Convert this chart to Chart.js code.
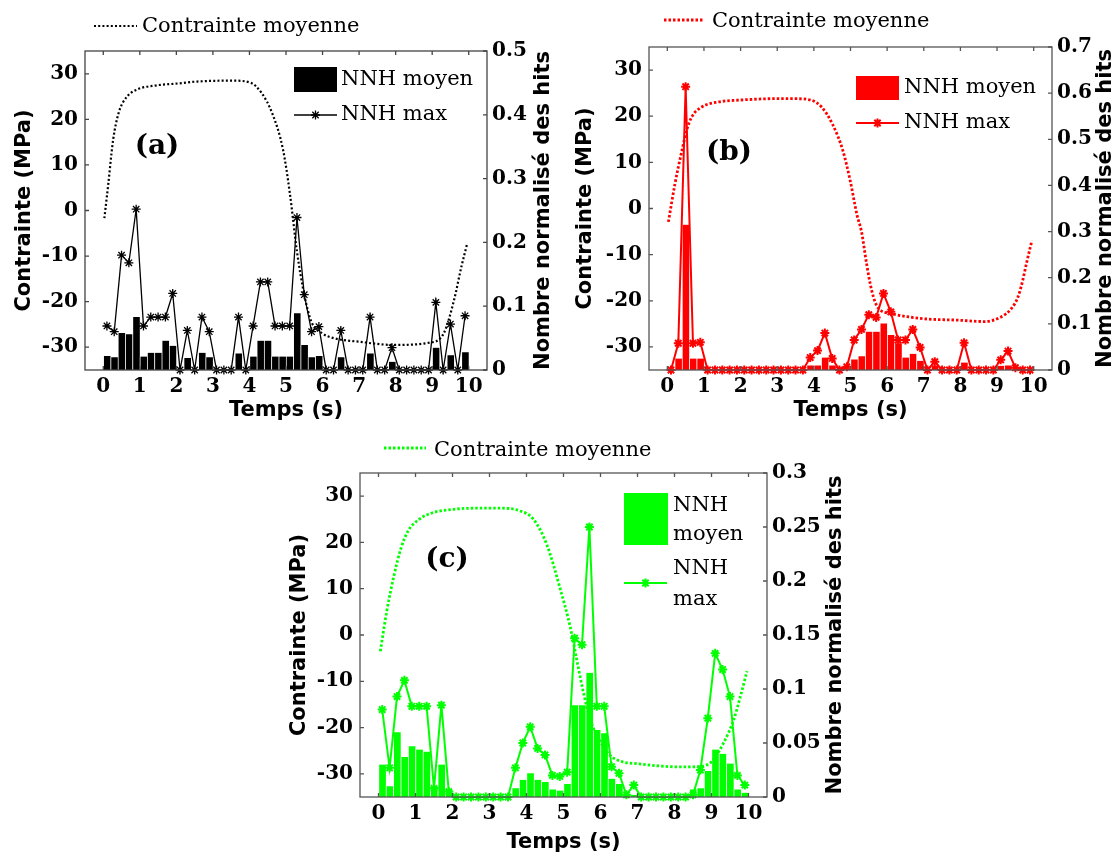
<!DOCTYPE html>
<html><head><meta charset="utf-8">
<script src="https://cdn.jsdelivr.net/npm/chart.js@4.4.1/dist/chart.umd.min.js"></script>
<style>
html,body{margin:0;padding:0;background:#fff;}
#wrap{position:relative;width:1120px;height:857px;overflow:hidden;background:#fff;}
canvas{position:absolute;left:0;top:0;}
</style></head><body>
<div id="wrap">
<canvas id="ca" width="1120" height="857"></canvas>
<canvas id="cb" width="1120" height="857"></canvas>
<canvas id="cc" width="1120" height="857"></canvas>
</div>
<script>
// ---------- DATA ----------
const timeBins = [0.1,0.3,0.5,0.7,0.9, 1.1,1.3,1.5,1.7,1.9, 2.1,2.3,2.5,2.7,2.9, 3.1,3.3,3.5,3.7,3.9,
  4.1,4.3,4.5,4.7,4.9, 5.1,5.3,5.5,5.7,5.9, 6.1,6.3,6.5,6.7,6.9, 7.1,7.3,7.5,7.7,7.9,
  8.1,8.3,8.5,8.7,8.9, 9.1,9.3,9.5,9.7,9.9];
const timeTicks = [0,1,2,3,4,5,6,7,8,9,10];
const stressTicks = [-30,-20,-10,0,10,20,30];
const stressTickLabels = ['-30','-20','-10','0','10','20','30'];
const hitsTicksA = [0,0.1,0.2,0.3,0.4,0.5];
const hitsLabelsA = ['0','0.1','0.2','0.3','0.4','0.5'];
const hitsTicksB = [0,0.1,0.2,0.3,0.4,0.5,0.6,0.7];
const hitsLabelsB = ['0','0.1','0.2','0.3','0.4','0.5','0.6','0.7'];
const hitsTicksC = [0,0.05,0.1,0.15,0.2,0.25,0.3];
const hitsLabelsC = ['0','0.05','0.1','0.15','0.2','0.25','0.3'];

// Panel (a)
const aMoyen = [0.022,0.020,0.058,0.056,0.083, 0.021,0.027,0.027,0.046,0.038, 0,0.019,0,0.027,0.020,
  0,0,0,0.026,0, 0.021,0.046,0.046,0.021,0.021, 0.021,0.089,0.039,0.020,0.022,
  0,0,0.020,0,0, 0,0.026,0,0,0.013, 0,0,0,0,0, 0.035,0,0.023,0,0.028];
const aMax = [0.069,0.060,0.180,0.168,0.252, 0.069,0.083,0.083,0.083,0.120, 0,0.062,0,0.083,0.060,
  0,0,0,0.083,0, 0.069,0.138,0.138,0.069,0.069, 0.069,0.239,0.118,0.060,0.068,
  0,0,0.062,0,0, 0,0.083,0,0,0.035, 0,0,0,0,0, 0.106,0,0.072,0,0.085];
const aStressT = [0.03,0.13,0.27,0.42,0.62,0.91,1.4,2.08,2.57,3.55,4.04,4.33,4.62,4.92,5.11,5.3,5.5,5.7,6.0,6.3,7.0,7.95,8.92,9.32,9.6,9.8,9.95];
const aStress = [-1.7,5.3,15.5,21.4,24.7,26.5,27.4,27.9,28.3,28.5,28.0,25.8,21.4,13.3,3.5,-9,-18.5,-24.5,-27,-28,-28.8,-29.5,-29,-26.9,-19.6,-12.3,-7.5];

// Panel (b)
const bMoyen = [0,0.025,0.315,0.025,0.025, 0,0,0,0,0, 0,0,0,0,0, 0,0,0,0,0.010,
  0.010,0.027,0.010,0,0, 0.023,0.030,0.083,0.083,0.101, 0.076,0.058,0.027,0.035,0.020,
  0,0.010,0,0,0, 0.016,0,0,0,0, 0.009,0.010,0,0,0];
const bMax = [0,0.058,0.614,0.058,0.060, 0,0,0,0,0, 0,0,0,0,0, 0,0,0,0,0.027,
  0.042,0.080,0.025,0,0.007, 0.065,0.088,0.120,0.114,0.166, 0.126,0.065,0.065,0.088,0.049,
  0,0.018,0,0,0, 0.059,0,0,0,0, 0.022,0.041,0.005,0,0];
const bStressT = [0.03,0.21,0.4,0.53,0.67,0.94,1.4,1.98,2.96,3.44,3.92,4.21,4.5,4.79,4.99,5.18,5.3,5.44,5.57,5.75,6.12,7.02,7.93,8.66,9.11,9.39,9.57,9.7,9.8,9.95];
const bStress = [-2.9,5.4,12.6,17,19.9,22,23.1,23.5,23.8,23.8,23.5,22,18.4,12.6,6.1,-1.5,-5,-12,-17.5,-21.5,-22.8,-23.9,-24.2,-24.5,-23.5,-21.7,-19.2,-15.6,-12,-7];

// Panel (c)
const cMoyen = [0.030,0.010,0.060,0.037,0.047, 0.044,0.042,0.010,0.030,0.006, 0.001,0,0,0,0,
  0,0,0,0.008,0.016, 0.022,0.016,0.014,0.007,0.006, 0.012,0.085,0.085,0.115,0.062,
  0.059,0.017,0.012,0.003,0.002, 0,0,0,0,0, 0,0,0.007,0.008,0.024, 0.044,0.040,0.031,0.007,0.004];
const cMax = [0.081,0.027,0.093,0.108,0.084, 0.084,0.084,0.008,0.085,0.005, 0,0,0,0,0,
  0,0,0,0.027,0.050, 0.065,0.045,0.039,0.020,0.019, 0.023,0.147,0.141,0.250,0.084,
  0.084,0.028,0.022,0.002,0.011, 0,0,0,0,0, 0,0,0.002,0.025,0.073, 0.133,0.118,0.093,0.020,0.011];
const cStressT = [0.05,0.22,0.42,0.61,0.8,1.05,1.38,1.97,2.64,3.3,3.83,4.19,4.55,4.91,5.18,5.36,5.5,5.63,5.8,6.03,6.26,6.6,7.0,7.6,8.2,8.69,9.01,9.32,9.6,9.78,9.96];
const cStress = [-3.5,5,12.9,18.8,22.5,24.7,26.2,27.1,27.4,27.4,26.8,25,19.5,10,1.8,-5.4,-11,-15.5,-20,-23.5,-26,-27.4,-27.8,-28.3,-28.5,-28.4,-27.3,-23.4,-18.3,-13.3,-7.8];

const txtStress = 'Contrainte moyenne';
const txtMoyen = 'NNH moyen';
const txtMax = 'NNH max';
const txtX = 'Temps (s)';
const txtY = 'Contrainte (MPa)';
const txtY1 = 'Nombre normalisé des hits';

// ---------- RENDERING ----------
const SERIF = "'DejaVu Serif', serif";
const SANS = "'DejaVu Sans', sans-serif";
const pts = (xs, ys) => xs.map((x, i) => ({x: x, y: ys[i]}));

const decorPlugin = {
  id: 'decor',
  afterDraw(chart, args, o) {
    const {ctx, chartArea: a, scales} = chart;
    const ds = chart.data.datasets;
    ctx.save();
    // frame and inward ticks
    ctx.strokeStyle = o.frameColor; ctx.lineWidth = 1.3; ctx.setLineDash([]);
    ctx.strokeRect(a.left, a.top, a.right - a.left, a.bottom - a.top);
    const L = 4;
    ctx.beginPath();
    scales.x.ticks.forEach(t => { const p = scales.x.getPixelForValue(t.value);
      ctx.moveTo(p, a.bottom); ctx.lineTo(p, a.bottom - L); ctx.moveTo(p, a.top); ctx.lineTo(p, a.top + L); });
    scales.y.ticks.forEach(t => { const p = scales.y.getPixelForValue(t.value);
      ctx.moveTo(a.left, p); ctx.lineTo(a.left + L, p); });
    scales.y1.ticks.forEach(t => { const p = scales.y1.getPixelForValue(t.value);
      ctx.moveTo(a.right, p); ctx.lineTo(a.right - L, p); });
    ctx.stroke();
    // right axis title (reads bottom to top)
    ctx.fillStyle = '#000';
    ctx.font = 'bold 21px ' + SANS;
    ctx.textAlign = 'center'; ctx.textBaseline = 'middle';
    ctx.save();
    ctx.translate(o.rightTitleX, (a.top + a.bottom) / 2);
    ctx.rotate(-Math.PI / 2);
    ctx.fillText(txtY1, 0, 0);
    ctx.restore();
    // panel label
    ctx.font = 'bold 28px ' + SERIF;
    ctx.fillText(o.label.text, o.label.x, o.label.y);
    // legends
    ctx.font = '21px ' + SERIF;
    ctx.textAlign = 'left';
    const dMax = ds[0], dStress = ds[1], dBar = ds[2];
    const s = o.stressLegend;
    ctx.strokeStyle = dStress.borderColor; ctx.lineWidth = dStress.borderWidth;
    ctx.setLineDash(dStress.borderDash);
    ctx.beginPath(); ctx.moveTo(s.x1, s.y); ctx.lineTo(s.x2, s.y); ctx.stroke();
    ctx.setLineDash([]);
    ctx.fillText(txtStress, s.tx, s.ty);
    const m = o.moyenLegend;
    ctx.fillStyle = dBar.backgroundColor;
    ctx.fillRect(m.x, m.y, m.w, m.h);
    ctx.fillStyle = '#000';
    m.lines.forEach((t, i) => ctx.fillText(t, m.tx, m.ty[i]));
    const x = o.maxLegend;
    ctx.strokeStyle = dMax.borderColor; ctx.lineWidth = dMax.borderWidth;
    ctx.beginPath(); ctx.moveTo(x.x1, x.y); ctx.lineTo(x.x2, x.y); ctx.stroke();
    Chart.helpers.drawPoint(ctx, {pointStyle: dMax.pointStyle, radius: dMax.pointRadius, borderWidth: dMax.pointBorderWidth}, (x.x1 + x.x2) / 2, x.y);
    x.lines.forEach((t, i) => ctx.fillText(t, x.tx, x.ty[i]));
    ctx.restore();
  }
};

function makePanel(id, p) {
  const tickFont = {family: SERIF, size: 20, weight: 'bold'};
  const titleFont = {family: SANS, size: 21, weight: 'bold'};
  return new Chart(document.getElementById(id), {
    type: 'bar',
    data: {
      datasets: [
        { type: 'line', label: txtMax, data: pts(timeBins, p.max), yAxisID: 'y1',
          borderColor: p.color, backgroundColor: p.color, borderWidth: p.maxWidth,
          pointStyle: 'star', pointRadius: 4.5, pointBorderWidth: p.maxWidth, pointBorderColor: p.color,
          tension: 0, clip: false, order: 0 },
        { type: 'line', label: txtStress, data: pts(p.stressT, p.stress), yAxisID: 'y',
          borderColor: p.color, borderWidth: p.dotWidth, borderDash: p.dash, pointRadius: 0,
          cubicInterpolationMode: 'monotone', fill: false, order: 1 },
        { type: 'bar', label: txtMoyen, data: pts(timeBins, p.moyen), yAxisID: 'y1',
          backgroundColor: p.color, borderColor: p.sepColor,
          borderWidth: {left: 1, right: 0, top: 0, bottom: 0}, borderSkipped: false,
          barPercentage: 1, categoryPercentage: 1, order: 2 }
      ]
    },
    options: {
      responsive: false, animation: false, devicePixelRatio: 1,
      layout: { padding: p.pad },
      plugins: { legend: {display: false}, tooltip: {enabled: false}, decor: p.decor },
      scales: {
        x: { type: 'linear', position: 'bottom', min: -0.5, max: 10.5, offset: false,
          afterBuildTicks: sc => { sc.ticks = timeTicks.map(v => ({value: v})); },
          afterFit: sc => { sc.height = p.hb; },
          grid: {display: false, drawTicks: false}, border: {display: false},
          ticks: {font: tickFont, color: '#000', padding: 5, maxRotation: 0, autoSkip: false,
            callback: v => String(v)},
          title: {display: true, text: txtX, font: titleFont, color: '#000', padding: {top: 0, bottom: p.xtPad}} },
        y: { type: 'linear', position: 'left', min: -35, max: 35,
          afterBuildTicks: sc => { sc.ticks = stressTicks.map(v => ({value: v})); },
          afterFit: sc => { sc.width = p.wl; },
          grid: {display: false, drawTicks: false}, border: {display: false},
          ticks: {font: tickFont, color: '#000', padding: 7,
            callback: (v, i) => stressTickLabels[i]},
          title: {display: true, text: txtY, font: titleFont, color: '#000', padding: {top: p.ytPad, bottom: 0}} },
        y1: { type: 'linear', position: 'right', min: 0, max: p.hitsMax,
          afterBuildTicks: sc => { sc.ticks = p.hitsTicks.map(v => ({value: v})); },
          afterFit: sc => { sc.width = 60; },
          grid: {display: false, drawTicks: false}, border: {display: false},
          ticks: {font: tickFont, color: '#000', padding: 5,
            callback: (v, i) => p.hitsLabels[i]} }
      }
    },
    plugins: [decorPlugin]
  });
}

makePanel('ca', {
  color: '#000000', sepColor: 'rgba(255,255,255,0.45)', maxWidth: 1.3, dotWidth: 2.2, dash: [2, 2.2],
  moyen: aMoyen, max: aMax, stressT: aStressT, stress: aStress,
  hitsMax: 0.5, hitsTicks: hitsTicksA, hitsLabels: hitsLabelsA,
  pad: {left: 0, top: 51, right: 1120 - 487 - 60, bottom: 857 - 370 - 58},
  wl: 85, hb: 58, xtPad: 5, ytPad: 12,
  decor: { frameColor: '#444', rightTitleX: 544,
    label: {text: '(a)', x: 157, y: 147},
    stressLegend: {x1: 94, x2: 137, y: 26, tx: 142, ty: 27},
    moyenLegend: {x: 294, y: 67, w: 43, h: 25, lines: [txtMoyen], tx: 341, ty: [80]},
    maxLegend: {x1: 294, x2: 337, y: 115, lines: [txtMax], tx: 341, ty: [115]} }
});

makePanel('cb', {
  color: '#ff0000', sepColor: 'rgba(255,255,255,0.5)', maxWidth: 2, dotWidth: 2.8, dash: [2.5, 2],
  moyen: bMoyen, max: bMax, stressT: bStressT, stress: bStress,
  hitsMax: 0.7, hitsTicks: hitsTicksB, hitsLabels: hitsLabelsB,
  pad: {left: 560, top: 47, right: 1120 - 1052 - 60, bottom: 857 - 370 - 58},
  wl: 89, hb: 58, xtPad: 5, ytPad: 13,
  decor: { frameColor: '#555', rightTitleX: 1106,
    label: {text: '(b)', x: 729, y: 153},
    stressLegend: {x1: 664, x2: 703, y: 20, tx: 712, ty: 22},
    moyenLegend: {x: 856, y: 76, w: 43, h: 24, lines: [txtMoyen], tx: 904, ty: [88]},
    maxLegend: {x1: 856, x2: 899, y: 123, lines: [txtMax], tx: 904, ty: [123]} }
});

makePanel('cc', {
  color: '#00ff00', sepColor: 'rgba(255,255,255,0.5)', maxWidth: 2, dotWidth: 2.8, dash: [2.5, 2],
  moyen: cMoyen, max: cMax, stressT: cStressT, stress: cStress,
  hitsMax: 0.3, hitsTicks: hitsTicksC, hitsLabels: hitsLabelsC,
  pad: {left: 280, top: 473, right: 1120 - 767 - 60, bottom: 0},
  wl: 80, hb: 60, xtPad: 2, ytPad: 7,
  decor: { frameColor: '#555', rightTitleX: 836,
    label: {text: '(c)', x: 447, y: 560},
    stressLegend: {x1: 384, x2: 426, y: 448, tx: 434, ty: 451},
    moyenLegend: {x: 624, y: 493, w: 44, h: 52, lines: ['NNH', 'moyen'], tx: 673, ty: [506, 535]},
    maxLegend: {x1: 624, x2: 667, y: 583, lines: ['NNH', 'max'], tx: 673, ty: [569, 600]} }
});
</script>
</body></html>
